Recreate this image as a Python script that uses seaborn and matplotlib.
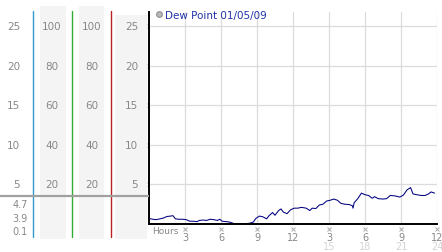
import matplotlib
matplotlib.use("Agg")
import matplotlib.pyplot as plt
from matplotlib.lines import Line2D
import matplotlib.transforms as mtransforms
import numpy as np
import pandas as pd
import seaborn as sns

sns.set_theme(style="white")
plt.rcParams['font.family'] = ['DejaVu Sans']

# ---- data ----
hours = [0.0, 0.3, 0.6, 0.9, 1.2, 1.5, 1.8, 2.0, 2.2, 2.5, 2.8, 3.1, 3.4, 3.7, 4.0,
         4.2, 4.5, 4.8, 5.1, 5.4, 5.7, 5.9, 6.1, 6.4, 6.7, 7.0, 7.2, 7.5, 7.8, 8.1,
         8.4, 8.7, 8.9, 9.2, 9.5, 9.8, 10.0, 10.3, 10.5, 10.8, 11.0, 11.2, 11.5, 11.8,
         12.1, 12.4, 12.7, 13.1, 13.4, 13.6, 13.9, 14.2, 14.5, 14.8, 15.1, 15.4, 15.7,
         16.0, 16.3, 16.7, 16.95, 17.0, 17.1, 17.4, 17.7, 18.0, 18.3, 18.6, 18.8, 19.1,
         19.5, 19.8, 20.1, 20.5, 20.9, 21.2, 21.5, 21.8, 22.0, 22.3, 22.7, 23.0, 23.3,
         23.5, 23.8]
dew_point = [0.7, 0.6, 0.55, 0.65, 0.75, 0.95, 1.0, 1.05, 0.65, 0.6, 0.6, 0.55, 0.35, 0.35, 0.3,
             0.45, 0.5, 0.45, 0.6, 0.55, 0.45, 0.6, 0.35, 0.3, 0.25, 0.1, 0.0, 0.05, 0.05, 0.05,
             0.1, 0.25, 0.7, 1.0, 0.9, 0.65, 1.05, 1.45, 1.1, 1.7, 1.9, 1.5, 1.3, 1.8,
             2.0, 2.0, 2.1, 2.0, 1.7, 2.0, 1.95, 2.4, 2.5, 2.9, 3.0, 3.15, 3.0,
             2.6, 2.5, 2.45, 2.3, 2.0, 2.7, 3.2, 3.9, 3.7, 3.6, 3.25, 3.45, 3.2,
             3.15, 3.2, 3.6, 3.55, 3.4, 3.65, 4.3, 4.6, 3.8, 3.7, 3.6, 3.6, 3.8,
             4.05, 3.9]
series_label = "Dew Point 01/05/09"

y_ticks = [5, 10, 15, 20, 25]
col1_labels = ["5", "10", "15", "20", "25"]
col2_labels = ["20", "40", "60", "80", "100"]
col3_labels = ["20", "40", "60", "80", "100"]
col4_labels = ["5", "10", "15", "20", "25"]
summary_labels = ["4.7", "3.9", "0.1"]

x_ticks = [3, 6, 9, 12, 15, 18, 21, 24]
x_labels = ["3", "6", "9", "12", "3", "6", "9", "12"]
x_ticks2 = [15, 18, 21, 24]
x_labels2 = ["15", "18", "21", "24"]

df = pd.DataFrame({"hours": hours, "dew": dew_point})

# ---- layout ----
W, H = 442, 253
fig = plt.figure(figsize=(W / 100, H / 100), dpi=100)
fig.patch.set_facecolor("white")

px_per_unit = (225 - 27) / 25.0
y_top = (225 - 13) / px_per_unit
AW = 437 - 149

ax = fig.add_axes([149 / W, 1 - 225 / H, AW / W, (225 - 13) / H])
ax.set_facecolor("white")
sns.lineplot(data=df, x="hours", y="dew", ax=ax, color="#000080", linewidth=0.75)
ax.set_xlim(0, 24)
ax.set_ylim(0, y_top)
ax.set_xlabel("")
ax.set_ylabel("")
for s in ["top", "right"]:
    ax.spines[s].set_visible(False)
for s in ["left", "bottom"]:
    ax.spines[s].set_color("black")
    ax.spines[s].set_linewidth(1.4)
ax.set_yticks(y_ticks)
ax.set_yticklabels([])
ax.set_xticks(x_ticks)
ax.set_xticklabels(x_labels, color="#888888", fontsize=7)
ax.tick_params(axis="both", length=0)
ax.tick_params(axis="x", pad=5.5)
ax.grid(True, color="#dcdcdc", linewidth=0.9)

# tick markers
tr_x = mtransforms.blended_transform_factory(ax.transData, ax.transAxes)
tr_y = mtransforms.blended_transform_factory(ax.transAxes, ax.transData)
ax.plot(x_ticks, [-4.5 / 212] * len(x_ticks), transform=tr_x, linestyle="none",
        marker="x", markersize=2.5, markeredgewidth=0.7, color="#aaaaaa", clip_on=False)
ax.plot([-4.0 / AW] * len(y_ticks), y_ticks, transform=tr_y, linestyle="none",
        marker="x", markersize=2.5, markeredgewidth=0.7, color="#aaaaaa", clip_on=False)
for xt, lab in zip(x_ticks2, x_labels2):
    ax.text(xt, -22.5 / 212, lab, transform=tr_x, ha="center", va="center",
            fontsize=7, color="#d4d4d4")
ax.text(3 / AW, -7 / 212, "Hours", transform=ax.transAxes, ha="left", va="center",
        fontsize=6.5, color="#888888")

handle = Line2D([], [], linestyle="none", marker="o", markersize=4,
                markerfacecolor="#bbbbbb", markeredgecolor="#999999")
leg = ax.legend([handle], [series_label], loc="upper left", bbox_to_anchor=(0.0, 1.04),
                frameon=False, fontsize=7.5, handletextpad=0.1, borderaxespad=0.2,
                handlelength=0.8)
for t in leg.get_texts():
    t.set_color("#2233aa")

# ---- left panel ----
lax = fig.add_axes([0, 0, 149 / W, 1])
lax.set_xlim(0, 149)
lax.set_ylim(-28 / px_per_unit, 225 / px_per_unit)
lax.axis("off")


def yfrac(pix):
    return 1 - pix / H


for x0, x1, top in [(40, 66, 7), (79, 104, 7), (115, 147, 16)]:
    lax.axvspan(x0, x1, ymin=yfrac(240), ymax=yfrac(top), color="#f4f4f4", lw=0)
for xc, col in [(33, "#3399cc"), (72, "#33aa33"), (111, "#bb2222")]:
    lax.axvline(xc, ymin=yfrac(238), ymax=yfrac(12), color=col, lw=1.0)
lax.axhline((225 - 197) / px_per_unit, xmin=0, xmax=1, color="#a0a0a0", lw=1.6)

for v, a, b, c, d in zip(y_ticks, col1_labels, col2_labels, col3_labels, col4_labels):
    lax.text(20, v, a, ha="right", va="center", fontsize=7.5, color="#888888")
    lax.text(52, v, b, ha="center", va="center", fontsize=7.5, color="#888888")
    lax.text(92, v, c, ha="center", va="center", fontsize=7.5, color="#888888")
    lax.text(138, v, d, ha="right", va="center", fontsize=7.5, color="#888888")

for pix, lab in zip([205, 219, 232], summary_labels):
    lax.text(28, (225 - pix) / px_per_unit, lab, ha="right", va="center",
             fontsize=7, color="#888888")

fig.savefig("out.png", dpi=100, facecolor="white")
